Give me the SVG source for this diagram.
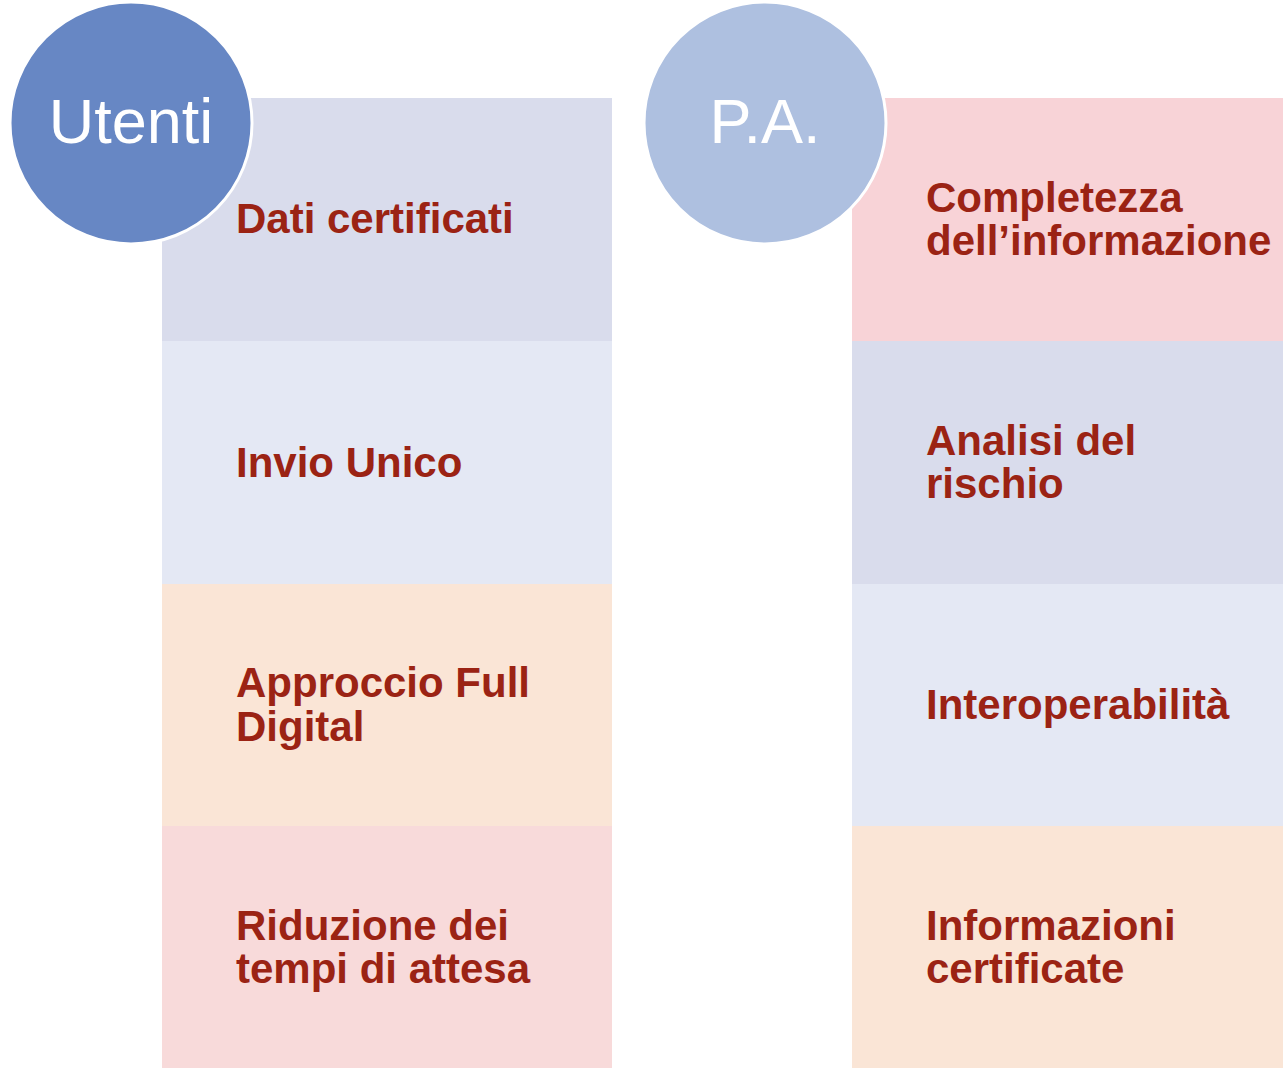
<svg xmlns="http://www.w3.org/2000/svg" width="1283" height="1068" viewBox="0 0 1283 1068">
<style>
.lbl{font-family:"Liberation Sans",Arial,sans-serif;font-weight:bold;font-size:42px;fill:#9B2314}
.head{font-family:"Liberation Sans",Arial,sans-serif;font-size:63px;fill:#FFFFFF;text-anchor:middle}
.c1{fill:#D9DCEC}.c2{fill:#E4E8F4}.c3{fill:#FAE5D6}.c4{fill:#F8DADA}.c5{fill:#F8D3D7}
</style>
<rect width="1283" height="1068" fill="#FFFFFF"/>
<g id="left-column">
<g id="dati-certificati"><rect class="c1" x="162" y="98" width="450" height="243"/><text class="lbl" x="236" y="233">Dati certificati</text></g>
<g id="invio-unico"><rect class="c2" x="162" y="341" width="450" height="243"/><text class="lbl" x="236" y="477">Invio Unico</text></g>
<g id="approccio-full-digital"><rect class="c3" x="162" y="584" width="450" height="242"/><text class="lbl" x="236" y="697">Approccio Full</text><text class="lbl" x="236" y="741">Digital</text></g>
<g id="riduzione-tempi"><rect class="c4" x="162" y="826" width="450" height="242"/><text class="lbl" x="236" y="940">Riduzione dei</text><text class="lbl" x="236" y="983">tempi di attesa</text></g>
</g>
<g id="right-column">
<g id="completezza"><rect class="c5" x="852" y="98" width="431" height="243"/><text class="lbl" x="926" y="212">Completezza</text><text class="lbl" x="926" y="255">dell’informazione</text></g>
<g id="analisi-rischio"><rect class="c1" x="852" y="341" width="431" height="243"/><text class="lbl" x="926" y="455">Analisi del</text><text class="lbl" x="926" y="498">rischio</text></g>
<g id="interoperabilita"><rect class="c2" x="852" y="584" width="431" height="242"/><text class="lbl" x="926" y="719">Interoperabilità</text></g>
<g id="informazioni-certificate"><rect class="c3" x="852" y="826" width="431" height="242"/><text class="lbl" x="926" y="940">Informazioni</text><text class="lbl" x="926" y="983">certificate</text></g>
</g>
<g id="utenti"><circle cx="131" cy="123" r="121" fill="#6787C4" stroke="#FFFFFF" stroke-width="3"/><text class="head" x="131" y="143">Utenti</text></g>
<g id="pa"><circle cx="765" cy="123" r="121" fill="#AEC0E0" stroke="#FFFFFF" stroke-width="3"/><text class="head" x="765" y="143">P.A.</text></g>
<g id="connectors"/>
</svg>
